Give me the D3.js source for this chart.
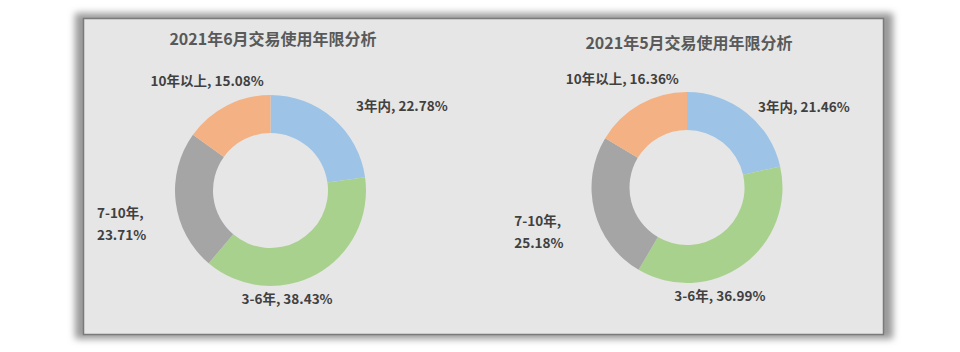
<!DOCTYPE html>
<html>
<head>
<meta charset="utf-8">
<script src="https://cdn.jsdelivr.net/npm/d3@7"></script>
<style>
  body { margin: 0; background: #ffffff; }
  svg { display: block; }
</style>
</head>
<body>
<div id="chart"></div>
<script>
// categories, in clockwise order from 12 o'clock
const categories = ["3年内", "3-6年", "7-10年", "10年以上"];
const colors = ["#9dc3e6", "#a9d18e", "#a5a5a5", "#f4b183"];

// chart titles
const titles = ["2021年6月交易使用年限分析", "2021年5月交易使用年限分析"];

// share of each category (%)
const juneValues = [22.78, 38.43, 23.71, 15.08];
const mayValues = [21.46, 36.99, 25.18, 16.36];

const width = 960, height = 352;

const svg = d3.select("#chart").append("svg")
    .attr("width", width)
    .attr("height", height);

// frame with soft shadow
const defs = svg.append("defs");
const blur = defs.append("filter").attr("id", "shadow")
    .attr("x", "-5%").attr("y", "-10%").attr("width", "110%").attr("height", "120%");
blur.append("feGaussianBlur").attr("stdDeviation", 3.5);

svg.append("rect")
    .attr("x", 75).attr("y", 13).attr("width", 818).attr("height", 326)
    .attr("fill", "#9a9a9a")
    .attr("filter", "url(#shadow)");
svg.append("rect")
    .attr("x", 83.5).attr("y", 18.5).attr("width", 800).attr("height", 316)
    .attr("fill", "#e6e6e6")
    .attr("stroke", "#7a7a7a")
    .attr("stroke-width", 1.5);

const font = "'Noto Sans CJK SC', 'Noto Sans', sans-serif";

// per chart layout: centre, title baseline, small label nudges
const charts = [
    {values: juneValues, title: titles[0], cx: 270.5, cy: 190.5, titleY: 45, titleX: 273,
     nudge: [[4.5, 8.5], [-43, 0.5], [-3, 19], [-7, 0.5]]},
    {values: mayValues, title: titles[1], cx: 687, cy: 187.5, titleY: 49, titleX: 689,
     nudge: [[-6, 16], [-40, 9], [-5, 14.5], [-4, -1]]}
];

const outerR = 95.5, innerR = 57.5, labelR = outerR + 28;

const pie = d3.pie().sort(null).value(d => d.value);
const arc = d3.arc().innerRadius(innerR).outerRadius(outerR);
const labelArc = d3.arc().innerRadius(labelR).outerRadius(labelR);

charts.forEach(function(c) {
    const data = categories.map((name, i) => ({name: name, value: c.values[i], color: colors[i]}));
    const arcs = pie(data);

    svg.append("text")
        .attr("x", c.titleX).attr("y", c.titleY)
        .attr("text-anchor", "middle")
        .attr("font-family", font)
        .attr("font-size", 16)
        .attr("font-weight", "bold")
        .attr("fill", "#595959")
        .text(c.title);

    const g = svg.append("g")
        .attr("transform", "translate(" + c.cx + "," + c.cy + ")");

    g.selectAll("path")
        .data(arcs)
        .join("path")
        .attr("d", arc)
        .attr("fill", d => d.data.color);

    // labels placed on the mid angle, anchored by side
    arcs.forEach(function(d, i) {
        const mid = (d.startAngle + d.endAngle) / 2;
        const s = Math.sin(mid);
        const p = labelArc.centroid(d);
        const x = p[0] + c.nudge[i][0];
        const y = p[1] + c.nudge[i][1];
        const anchor = s > 0.6 ? "start" : (s < -0.6 ? "end" : "middle");
        const txt = d.data.name + ", " + d.data.value.toFixed(2) + "%";

        const t = g.append("text")
            .attr("text-anchor", anchor)
            .attr("font-family", font)
            .attr("font-size", 13.5)
            .attr("font-weight", "bold")
            .attr("fill", "#404040");

        if (Math.abs(s) > 0.9) {
            // side labels wrap onto two lines
            t.attr("text-anchor", "start");
            const lines = [d.data.name + ",", d.data.value.toFixed(2) + "%"];
            const lx = x - 48;
            lines.forEach(function(line, k) {
                t.append("tspan")
                    .attr("x", lx)
                    .attr("y", y + (k - 0.5) * 22 + 5)
                    .text(line);
            });
        } else {
            t.attr("x", x).attr("y", y + 5).text(txt);
        }
    });
});
</script>
</body>
</html>
